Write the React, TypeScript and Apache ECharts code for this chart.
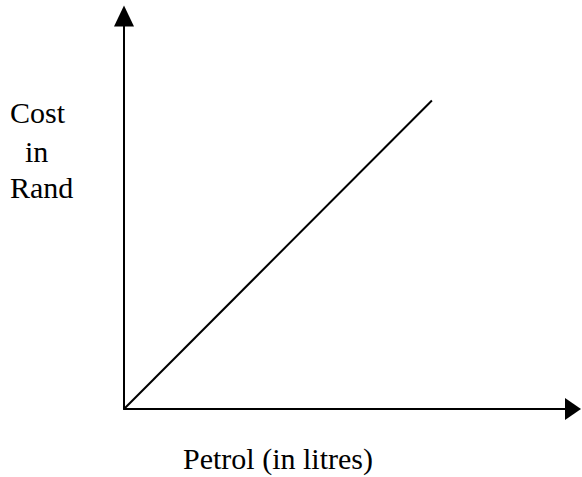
import React, { useEffect, useRef } from "react";
import * as echarts from "echarts";

// Data (axes have no tick labels)
const petrolLitres: number[] = [0, 48];
const costRand: number[] = [0, 78.5];
const xAxisRange: number[] = [0, 70];
const yAxisRange: number[] = [0, 100];
const yAxisTitleLines: string[] = ["Cost", "  in", "Rand"];
const xAxisTitle = "Petrol (in litres)";

export default function App() {
  const ref = useRef<HTMLDivElement>(null);
  useEffect(() => {
    if (!ref.current) return;
    const chart = echarts.init(ref.current, null, { renderer: "svg" });
    const font = '30px "Liberation Serif", "Times New Roman", serif';
    const yTitleY = [112, 151, 187];
    const yTitleX = [10, 10, 10];
    chart.setOption({
      animation: false,
      backgroundColor: "#ffffff",
      grid: { left: 124, top: 16, right: 9, bottom: 68, containLabel: false },
      xAxis: {
        type: "value",
        min: xAxisRange[0],
        max: xAxisRange[1],
        axisLine: {
          show: true,
          onZero: false,
          symbol: ["none", "triangle"],
          symbolSize: [22, 16],
          lineStyle: { color: "#000", width: 2 },
        },
        axisTick: { show: false },
        axisLabel: { show: false },
        splitLine: { show: false },
      },
      yAxis: {
        type: "value",
        min: yAxisRange[0],
        max: yAxisRange[1],
        axisLine: {
          show: true,
          onZero: false,
          symbol: ["none", "triangle"],
          symbolSize: [20, 21],
          lineStyle: { color: "#000", width: 2 },
        },
        axisTick: { show: false },
        axisLabel: { show: false },
        splitLine: { show: false },
      },
      series: [
        {
          type: "line",
          data: petrolLitres.map((x, i) => [x, costRand[i]]),
          showSymbol: false,
          symbol: "none",
          lineStyle: { color: "#000", width: 2 },
        },
      ],
      graphic: [
        ...yAxisTitleLines.map((t, i) => ({
          type: "text",
          x: yTitleX[i],
          y: yTitleY[i],
          style: {
            text: t,
            font,
            fill: "#000",
            align: "left",
            verticalAlign: "middle",
          },
        })),
        {
          type: "text",
          x: 183,
          y: 458,
          style: {
            text: xAxisTitle,
            font,
            fill: "#000",
            align: "left",
            verticalAlign: "middle",
          },
        },
      ],
    });
    return () => chart.dispose();
  }, []);
  return (
    <div
      ref={ref}
      style={{ position: "fixed", left: 0, top: 0, width: 582, height: 477 }}
    />
  );
}
